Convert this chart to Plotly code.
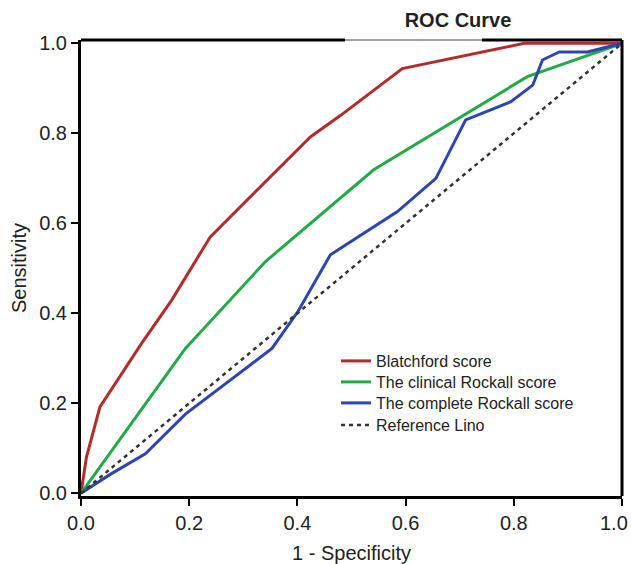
import plotly.graph_objects as go

# Data
blatchford_x = [0.0, 0.01, 0.035, 0.112, 0.168, 0.239, 0.424, 0.48, 0.594, 0.819, 1.0]
blatchford_y = [0.0, 0.08, 0.192, 0.333, 0.43, 0.57, 0.792, 0.84, 0.944, 1.0, 1.0]

clinical_x = [0.0, 0.193, 0.341, 0.541, 0.825, 1.0]
clinical_y = [0.0, 0.322, 0.515, 0.719, 0.926, 1.0]

complete_x = [0.0, 0.026, 0.054, 0.119, 0.193, 0.353, 0.401, 0.461, 0.523, 0.585,
              0.656, 0.711, 0.794, 0.835, 0.853, 0.884, 0.936, 1.0]
complete_y = [0.0, 0.02, 0.042, 0.088, 0.176, 0.322, 0.404, 0.53, 0.578, 0.626,
              0.70, 0.83, 0.870, 0.907, 0.963, 0.981, 0.981, 1.0]

reference_x = [0.0, 1.0]
reference_y = [0.0, 1.0]

names = ["Blatchford score", "The clinical Rockall score",
         "The complete Rockall score", "Reference Lino"]
colors = ["#b32b2b", "#22ab45", "#2c45b0", "#333333"]

tick_vals = [0, 0.2, 0.4, 0.6, 0.8, 1.0]
tick_text = ["0.0", "0.2", "0.4", "0.6", "0.8", "1.0"]

FONT = "Liberation Sans, Arial, sans-serif"

fig = go.Figure()
series = [(blatchford_x, blatchford_y), (clinical_x, clinical_y),
          (complete_x, complete_y)]
legend_ids = ["legend", "legend2", "legend3", "legend4"]
for (xs, ys), n, c, lg in zip(series, names[:3], colors[:3], legend_ids[:3]):
    fig.add_trace(go.Scatter(x=xs, y=ys, mode="lines", name=n, legend=lg,
                             line=dict(color=c, width=3)))
fig.add_trace(go.Scatter(x=reference_x, y=reference_y, mode="lines", name=names[3],
                         legend=legend_ids[3],
                         line=dict(color=colors[3], width=2.5, dash="4px,4px")))

# Frame: top (with gap under title) and right edges
shapes = [
    dict(type="line", xref="paper", yref="paper", x0=0, x1=(345 - 81) / 541, y0=1, y1=1,
         line=dict(color="black", width=3)),
    dict(type="line", xref="paper", yref="paper", x0=(345 - 81) / 541, x1=(482 - 81) / 541,
         y0=1, y1=1, line=dict(color="#444444", width=1)),
    dict(type="line", xref="paper", yref="paper", x0=(482 - 81) / 541, x1=1, y0=1, y1=1,
         line=dict(color="black", width=3)),
    dict(type="line", xref="paper", yref="paper", x0=1, x1=1, y0=0, y1=1,
         line=dict(color="black", width=3)),
]

row_px = [361, 382, 403, 425]
leg_common = dict(x=(336 - 81) / 541, xanchor="left", yanchor="middle",
                  bgcolor="rgba(0,0,0,0)", itemwidth=30,
                  font=dict(family=FONT, size=16, color="#222222"))
legends = {}
for lg, py in zip(legend_ids, row_px):
    legends[lg] = dict(leg_common, y=(496 - py) / 456)

# last x tick label is nudged left (as in the reference) so it fits in the page
x_ticktext_shown = tick_text[:-1] + [""]
annotations = [dict(text=tick_text[-1], xref="paper", yref="paper",
                    x=(630 - 81) / 541, xanchor="right",
                    y=(496 - 523) / 456, yanchor="middle", showarrow=False,
                    font=dict(family=FONT, size=20, color="#222222"))]

fig.update_layout(
    width=631, height=564,
    margin=dict(l=81, r=9, t=40, b=68, autoexpand=False),
    paper_bgcolor="white", plot_bgcolor="white",
    font=dict(family=FONT, color="#222222", size=20),
    title=dict(text="<b>ROC Curve</b>", x=458 / 631, xanchor="center",
               y=1 - 20 / 564, yanchor="middle",
               font=dict(family=FONT, size=20, color="#222222")),
    showlegend=True,
    shapes=shapes,
    annotations=annotations,
    xaxis=dict(range=[0, 1], tickvals=tick_vals, ticktext=x_ticktext_shown,
               showgrid=False, zeroline=False, showline=True, linecolor="black",
               linewidth=3, ticks="outside", ticklen=7, tickwidth=2, tickcolor="black",
               tickfont=dict(size=20), automargin=False,
               title=dict(text="1 - Specificity", font=dict(size=20), standoff=14)),
    yaxis=dict(range=[-0.006, 1.0074], tickvals=tick_vals, ticktext=tick_text,
               showgrid=False, zeroline=False, showline=True, linecolor="black",
               linewidth=3, ticks="outside", ticklen=7, tickwidth=2, tickcolor="black",
               tickfont=dict(size=20), automargin=False,
               title=dict(text="Sensitivity", font=dict(size=20), standoff=8)),
    **legends,
)

fig.write_html("out.html")
